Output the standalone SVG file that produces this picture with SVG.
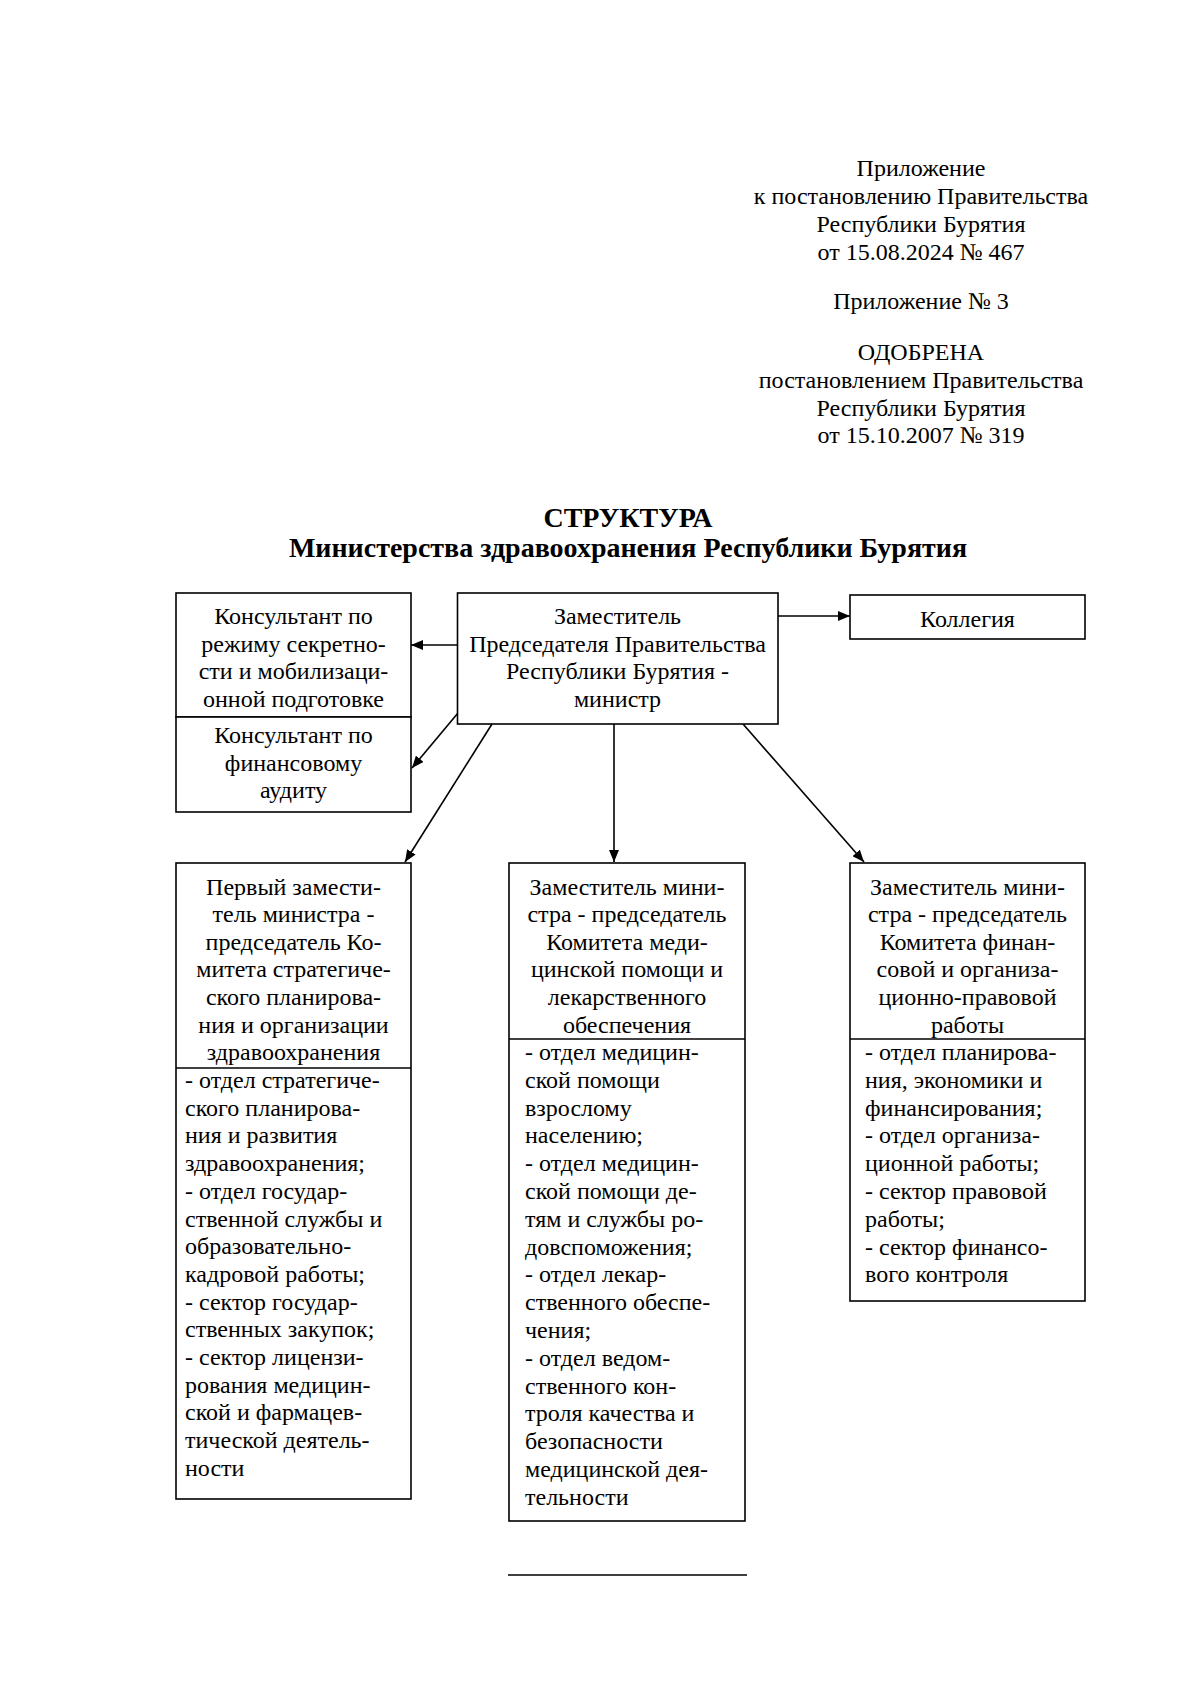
<svg xmlns="http://www.w3.org/2000/svg" width="1200" height="1698" viewBox="0 0 1200 1698">
<style>
text{font-family:"Liberation Serif","Times New Roman",serif;font-size:24px;fill:#000}
.c{text-anchor:middle}
.t{font-weight:bold;font-size:28px;text-anchor:middle}
.box{fill:#fff;stroke:#000;stroke-width:1.6}
.ln{stroke:#000;stroke-width:1.6;fill:none}
.ar{stroke:#000;stroke-width:1.6;fill:none;marker-end:url(#ah)}
</style>
<defs>
<marker id="ah" viewBox="0 0 12 10" refX="12" refY="5" markerWidth="12" markerHeight="10" markerUnits="userSpaceOnUse" orient="auto">
<path d="M0,0 L12,5 L0,10 Z" fill="#000"/>
</marker>
</defs>
<rect width="1200" height="1698" fill="#fff"/>
<g id="header">
<text class="c" x="921" y="176">Приложение</text>
<text class="c" x="921" y="204">к постановлению Правительства</text>
<text class="c" x="921" y="231.5">Республики Бурятия</text>
<text class="c" x="921" y="259.5">от 15.08.2024 № 467</text>
<text class="c" x="921" y="309">Приложение № 3</text>
<text class="c" x="921" y="360">ОДОБРЕНА</text>
<text class="c" x="921" y="388">постановлением Правительства</text>
<text class="c" x="921" y="416">Республики Бурятия</text>
<text class="c" x="921" y="443">от 15.10.2007 № 319</text>
</g>
<g id="title">
<text class="t" x="628" y="527">СТРУКТУРА</text>
<text class="t" x="628" y="557">Министерства здравоохранения Республики Бурятия</text>
</g>
<g id="connectors">
<line class="ar" x1="457.5" y1="645" x2="411" y2="645"/>
<line class="ar" x1="458" y1="713" x2="412" y2="768"/>
<line class="ar" x1="778" y1="616" x2="850" y2="616"/>
<line class="ar" x1="492" y1="724" x2="405" y2="862"/>
<line class="ar" x1="614" y1="724" x2="614" y2="862"/>
<line class="ar" x1="743" y1="724" x2="864" y2="862"/>
</g>
<g id="node-consultant-secret">
<rect class="box" x="176" y="593" width="235" height="124"/>
<text class="c" x="293.5" y="624">Консультант по</text>
<text class="c" x="293.5" y="651.6">режиму секретно-</text>
<text class="c" x="293.5" y="679.2">сти и мобилизаци-</text>
<text class="c" x="293.5" y="706.8">онной подготовке</text>
</g>
<g id="node-consultant-audit">
<rect class="box" x="176" y="717" width="235" height="95"/>
<text class="c" x="293.5" y="743">Консультант по</text>
<text class="c" x="293.5" y="770.6">финансовому</text>
<text class="c" x="293.5" y="798.2">аудиту</text>
</g>
<g id="node-minister">
<rect class="box" x="457.5" y="593" width="320.5" height="131"/>
<text class="c" x="617.5" y="624">Заместитель</text>
<text class="c" x="617.5" y="651.6">Председателя Правительства</text>
<text class="c" x="617.5" y="679.2">Республики Бурятия -</text>
<text class="c" x="617.5" y="706.8">министр</text>
</g>
<g id="node-kollegia">
<rect class="box" x="850" y="595" width="235" height="44"/>
<text class="c" x="967.5" y="627">Коллегия</text>
</g>
<g id="node-first-deputy">
<rect class="box" x="176" y="863" width="235" height="636"/>
<line class="ln" x1="176" y1="1068" x2="411" y2="1068"/>
<text class="c" x="293.5" y="894.5">Первый замести-</text>
<text class="c" x="293.5" y="922.1">тель министра -</text>
<text class="c" x="293.5" y="949.7">председатель Ко-</text>
<text class="c" x="293.5" y="977.3">митета стратегиче-</text>
<text class="c" x="293.5" y="1004.9">ского планирова-</text>
<text class="c" x="293.5" y="1032.5">ния и организации</text>
<text class="c" x="293.5" y="1060.1">здравоохранения</text>
<text x="185" y="1088">- отдел стратегиче-</text>
<text x="185" y="1115.7">ского планирова-</text>
<text x="185" y="1143.4">ния и развития</text>
<text x="185" y="1171.1">здравоохранения;</text>
<text x="185" y="1198.8">- отдел государ-</text>
<text x="185" y="1226.5">ственной службы и</text>
<text x="185" y="1254.2">образовательно-</text>
<text x="185" y="1281.9">кадровой работы;</text>
<text x="185" y="1309.6">- сектор государ-</text>
<text x="185" y="1337.3">ственных закупок;</text>
<text x="185" y="1365">- сектор лицензи-</text>
<text x="185" y="1392.7">рования медицин-</text>
<text x="185" y="1420.4">ской и фармацев-</text>
<text x="185" y="1448.1">тической деятель-</text>
<text x="185" y="1475.8">ности</text>
</g>
<g id="node-deputy-medical">
<rect class="box" x="509" y="863" width="236" height="658"/>
<line class="ln" x1="509" y1="1039" x2="745" y2="1039"/>
<text class="c" x="627" y="894.5">Заместитель мини-</text>
<text class="c" x="627" y="922.1">стра - председатель</text>
<text class="c" x="627" y="949.7">Комитета меди-</text>
<text class="c" x="627" y="977.3">цинской помощи и</text>
<text class="c" x="627" y="1004.9">лекарственного</text>
<text class="c" x="627" y="1032.5">обеспечения</text>
<text x="525" y="1060">- отдел медицин-</text>
<text x="525" y="1087.8">ской помощи</text>
<text x="525" y="1115.6">взрослому</text>
<text x="525" y="1143.4">населению;</text>
<text x="525" y="1171.2">- отдел медицин-</text>
<text x="525" y="1199">ской помощи де-</text>
<text x="525" y="1226.8">тям и службы ро-</text>
<text x="525" y="1254.6">довспоможения;</text>
<text x="525" y="1282.4">- отдел лекар-</text>
<text x="525" y="1310.2">ственного обеспе-</text>
<text x="525" y="1338">чения;</text>
<text x="525" y="1365.8">- отдел ведом-</text>
<text x="525" y="1393.6">ственного кон-</text>
<text x="525" y="1421.4">троля качества и</text>
<text x="525" y="1449.2">безопасности</text>
<text x="525" y="1477">медицинской дея-</text>
<text x="525" y="1504.8">тельности</text>
</g>
<g id="node-deputy-finance">
<rect class="box" x="850" y="863" width="235" height="438"/>
<line class="ln" x1="850" y1="1039" x2="1085" y2="1039"/>
<text class="c" x="967.5" y="894.5">Заместитель мини-</text>
<text class="c" x="967.5" y="922.1">стра - председатель</text>
<text class="c" x="967.5" y="949.7">Комитета финан-</text>
<text class="c" x="967.5" y="977.3">совой и организа-</text>
<text class="c" x="967.5" y="1004.9">ционно-правовой</text>
<text class="c" x="967.5" y="1032.5">работы</text>
<text x="865" y="1060">- отдел планирова-</text>
<text x="865" y="1087.8">ния, экономики и</text>
<text x="865" y="1115.6">финансирования;</text>
<text x="865" y="1143.4">- отдел организа-</text>
<text x="865" y="1171.2">ционной работы;</text>
<text x="865" y="1199">- сектор правовой</text>
<text x="865" y="1226.8">работы;</text>
<text x="865" y="1254.6">- сектор финансо-</text>
<text x="865" y="1282.4">вого контроля</text>
</g>
<line class="ln" x1="508" y1="1575" x2="747" y2="1575"/>
</svg>
